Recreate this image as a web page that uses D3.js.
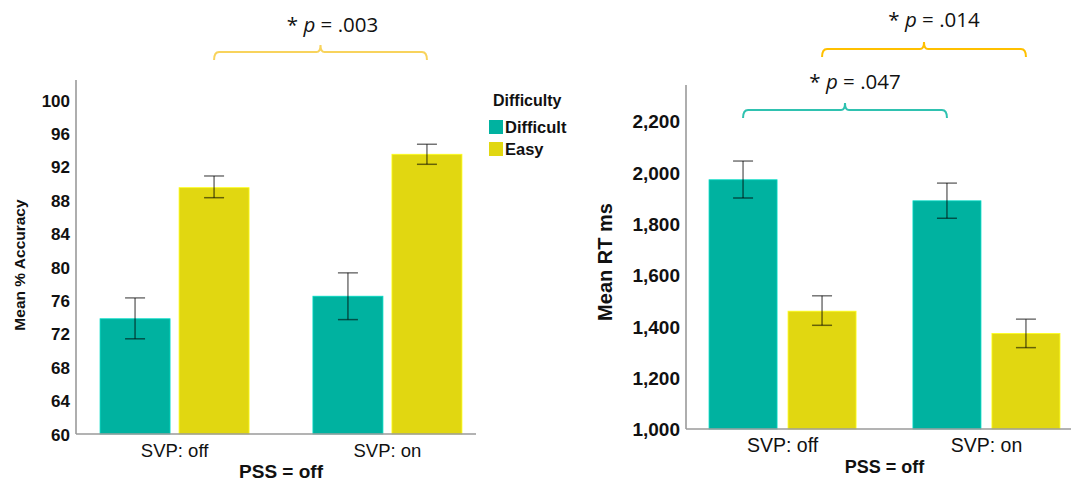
<!DOCTYPE html>
<html>
<head>
<meta charset="utf-8">
<script src="https://cdn.jsdelivr.net/npm/d3@7"></script>
<style>
  body { margin: 0; background: #fff; }
  svg { display: block; }
  text { font-family: Arial, "Liberation Sans", sans-serif; fill: #111; }
</style>
</head>
<body>
<svg width="1071" height="484"></svg>
<script>
// ---- data ----
var groups = ["SVP: off", "SVP: on"];
var levels = ["Difficult", "Easy"];
var levelColors = ["#00b2a0", "#e1d711"];

var accDifficult = [73.8, 76.5];
var accEasy = [89.5, 93.5];
var accDifficultCI = [[71.4, 76.3], [73.7, 79.3]];
var accEasyCI = [[88.3, 90.9], [92.3, 94.7]];
var accTicks = [60, 64, 68, 72, 76, 80, 84, 88, 92, 96, 100];

var rtDifficult = [1971, 1889];
var rtEasy = [1459, 1372];
var rtDifficultCI = [[1900, 2044], [1821, 1958]];
var rtEasyCI = [[1404, 1519], [1317, 1428]];
var rtTicks = [1000, 1200, 1400, 1600, 1800, 2000, 2200];

var svg = d3.select("svg");

function rows(diff, easy, diffCI, easyCI) {
    var out = [];
    groups.forEach(function(g, i) {
        out.push({group: g, level: levels[0], value: diff[i], lo: diffCI[i][0], hi: diffCI[i][1]});
        out.push({group: g, level: levels[1], value: easy[i], lo: easyCI[i][0], hi: easyCI[i][1]});
    });
    return out;
}

function panel(o) {
    var data = rows(o.diff, o.easy, o.diffCI, o.easyCI);

    var x0 = d3.scaleBand().domain(groups).range([o.left, o.right])
        .paddingInner(o.padIn).paddingOuter(o.padOut);
    var x1 = d3.scaleBand().domain(levels).range([0, x0.bandwidth()]).paddingInner(o.barPad);
    var y = d3.scaleLinear().domain([o.ticks[0], o.ticks[o.ticks.length - 1]]).range([o.bottom, o.top]);
    var color = d3.scaleOrdinal().domain(levels).range(levelColors);

    var g = svg.append("g");

    // bars
    g.selectAll(".bar").data(data).enter().append("rect")
        .attr("x", function(d) { return x0(d.group) + x1(d.level); })
        .attr("y", function(d) { return y(d.value); })
        .attr("width", x1.bandwidth())
        .attr("height", function(d) { return o.bottom - y(d.value); })
        .attr("fill", function(d) { return color(d.level); })
        .attr("stroke", function(d) { return d3.color(color(d.level)).brighter(0.6); })
        .attr("stroke-width", 0.8);

    // error bars
    var eb = g.selectAll(".err").data(data).enter().append("g")
        .attr("stroke", "#000").attr("stroke-opacity", 0.55).attr("stroke-width", 1.5);
    var cx = function(d) { return x0(d.group) + x1(d.level) + x1.bandwidth() / 2; };
    eb.append("line")
        .attr("x1", cx).attr("x2", cx)
        .attr("y1", function(d) { return y(d.lo); })
        .attr("y2", function(d) { return y(d.hi); });
    [function(d) { return y(d.lo); }, function(d) { return y(d.hi); }].forEach(function(fy) {
        eb.append("line")
            .attr("x1", function(d) { return cx(d) - o.cap; })
            .attr("x2", function(d) { return cx(d) + o.cap; })
            .attr("y1", fy).attr("y2", fy);
    });

    // y axis
    var ya = g.append("g")
        .attr("transform", "translate(" + o.left + ",0)")
        .call(d3.axisLeft(y).tickValues(o.ticks).tickSize(0).tickPadding(6).tickFormat(o.fmt));
    ya.select(".domain").remove();
    ya.selectAll("text").style("font-size", o.tickSize + "px").style("font-weight", "bold")
        .attr("fill", "#111").attr("dy", "0.36em");

    // x axis
    var xa = g.append("g")
        .attr("transform", "translate(0," + o.bottom + ")")
        .call(d3.axisBottom(x0).tickSize(0).tickPadding(o.xPad));
    xa.select(".domain").remove();
    xa.selectAll("text").style("font-size", o.xSize + "px").attr("fill", "#111");

    // axis lines
    g.append("line").attr("x1", o.left).attr("x2", o.left).attr("y1", o.axisTop).attr("y2", o.bottom)
        .attr("stroke", "#9a9a9a").attr("stroke-width", 1.6);
    g.append("line").attr("x1", o.left).attr("x2", o.axisRight).attr("y1", o.bottom).attr("y2", o.bottom)
        .attr("stroke", "#9a9a9a").attr("stroke-width", 1.6);

    // titles
    g.append("text")
        .attr("transform", "translate(" + o.yTitleX + "," + o.yTitleY + ") rotate(-90)")
        .attr("text-anchor", "middle")
        .style("font-size", o.yTitleSize + "px").style("font-weight", "bold")
        .text(o.yTitle);
    g.append("text")
        .attr("x", (x0(groups[0]) + x0(groups[1]) + x0.bandwidth()) / 2)
        .attr("y", o.pssY)
        .attr("text-anchor", "middle")
        .style("font-size", o.pssSize + "px").style("font-weight", "bold")
        .text("PSS = off");

    // significance brackets
    o.brackets.forEach(function(b) {
        var xa_ = x0(groups[0]) + x1(b.level) + x1.bandwidth() / 2;
        var xb_ = x0(groups[1]) + x1(b.level) + x1.bandwidth() / 2;
        var xm = (xa_ + xb_) / 2, yb = b.y;
        var p = d3.path();
        p.moveTo(xa_, yb + 8);
        p.quadraticCurveTo(xa_, yb, xa_ + 5, yb);
        p.lineTo(xm - 4, yb);
        p.quadraticCurveTo(xm, yb, xm, yb - 7);
        p.quadraticCurveTo(xm, yb, xm + 4, yb);
        p.lineTo(xb_ - 5, yb);
        p.quadraticCurveTo(xb_, yb, xb_, yb + 8);
        g.append("path").attr("d", p.toString()).attr("fill", "none")
            .attr("stroke", b.color).attr("stroke-width", 2);
        var t = g.append("text")
            .attr("x", xm + b.dx).attr("y", b.textY)
            .attr("text-anchor", "middle")
            .style("font-family", "'Open Sans', sans-serif")
            .style("font-size", "20.5px");
        t.append("tspan").text("* ");
        t.append("tspan").style("font-style", "italic").text("p");
        t.append("tspan").text(" = " + b.p);
    });
    return g;
}

panel({
    diff: accDifficult, easy: accEasy, diffCI: accDifficultCI, easyCI: accEasyCI,
    ticks: accTicks, fmt: d3.format("d"),
    left: 76, right: 486, padIn: 0.3, padOut: 0.113, barPad: 0.114,
    top: 100, bottom: 434, axisTop: 80, axisRight: 476, cap: 10,
    tickSize: 17, xSize: 18.5, xPad: 10,
    yTitle: "Mean % Accuracy", yTitleX: 25, yTitleY: 265, yTitleSize: 15.5,
    pssY: 478, pssSize: 19,
    brackets: [{level: "Easy", y: 52, color: "#f8d35c", textY: 32, p: ".003", dx: 12}]
});

panel({
    diff: rtDifficult, easy: rtEasy, diffCI: rtDifficultCI, easyCI: rtEasyCI,
    ticks: rtTicks, fmt: d3.format(","),
    left: 686, right: 1083, padIn: 0.279, padOut: 0.113, barPad: 0.139,
    top: 121, bottom: 429, axisTop: 85, axisRight: 1071, cap: 10,
    tickSize: 19, xSize: 19.5, xPad: 9,
    yTitle: "Mean RT ms", yTitleX: 612, yTitleY: 262, yTitleSize: 20,
    pssY: 473, pssSize: 18,
    brackets: [
        {level: "Easy", y: 49, color: "#ffc000", textY: 27, p: ".014", dx: 10},
        {level: "Difficult", y: 110, color: "#2fc2b0", textY: 89, p: ".047", dx: 10}
    ]
});

// legend
var legend = svg.append("g").attr("transform", "translate(489,0)");
legend.append("text").attr("x", 4).attr("y", 106)
    .style("font-size", "16px").style("font-weight", "bold").text("Difficulty");
var li = legend.selectAll(".li").data(levels).enter().append("g")
    .attr("transform", function(d, i) { return "translate(0," + (120 + i * 22) + ")"; });
li.append("rect").attr("width", 14).attr("height", 14)
    .attr("fill", function(d, i) { return levelColors[i]; });
li.append("text").attr("x", 16).attr("y", 13)
    .style("font-size", "16.5px").style("font-weight", "bold")
    .text(function(d) { return d; });
</script>
</body>
</html>
